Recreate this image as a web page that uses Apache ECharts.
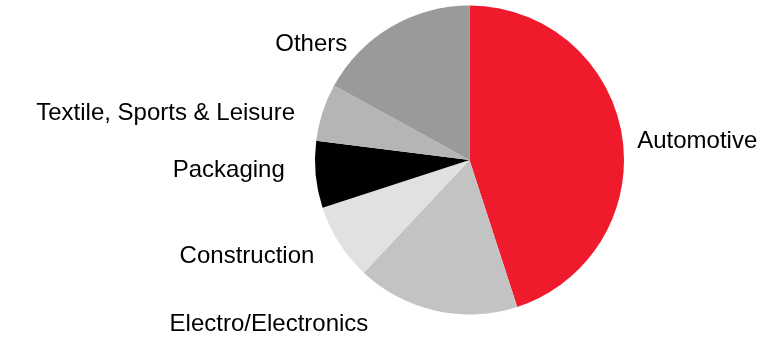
<!DOCTYPE html>
<html>
<head>
<meta charset="utf-8">
<style>
  html, body { margin: 0; padding: 0; background: #ffffff; }
  #chart { width: 769px; height: 339px; }
</style>
<script src="https://cdn.jsdelivr.net/npm/echarts@6/dist/echarts.min.js"></script>
</head>
<body>
<div id="chart"></div>
<script>
// Sales share by end market (%), clockwise from 12 o'clock
const categories = ['Automotive', 'Electro/Electronics', 'Construction', 'Packaging', 'Textile, Sports & Leisure', 'Others'];
const shares = [45, 17, 8, 7, 6, 17];

// Slice colours
const sliceColors = ['#EF1B2C', '#C3C3C3', '#E1E1E1', '#000000', '#B5B5B5', '#9A9A9A'];

// Label placement along each slice: radial step and horizontal step (px)
const labelRadial = [-35, 13.5, 25.6, -48, -3.4, -19.7];
const labelHorizontal = [44.7, 59.5, -1.9, 73.7, 25.8, 48.6];

const data = categories.map((name, i) => ({
  name: name,
  value: shares[i],
  itemStyle: { color: sliceColors[i] },
  labelLine: { show: false, length: labelRadial[i], length2: labelHorizontal[i] }
}));

const chart = echarts.init(document.getElementById('chart'), null, { renderer: 'canvas' });
chart.setOption({
  animation: false,
  backgroundColor: '#ffffff',
  series: [{
    type: 'pie',
    center: [469.5, 160],
    radius: [0, 154.5],
    startAngle: 90,
    clockwise: true,
    avoidLabelOverlap: false,
    silent: true,
    itemStyle: { borderWidth: 0 },
    label: {
      show: true,
      position: 'outside',
      formatter: '{b}',
      color: '#000000',
      fontFamily: '"Liberation Sans", Arial, sans-serif',
      fontSize: 24,
      distanceToLabelLine: 5
    },
    labelLine: { show: false },
    emphasis: { disabled: true },
    data: data
  }]
});
</script>
</body>
</html>
